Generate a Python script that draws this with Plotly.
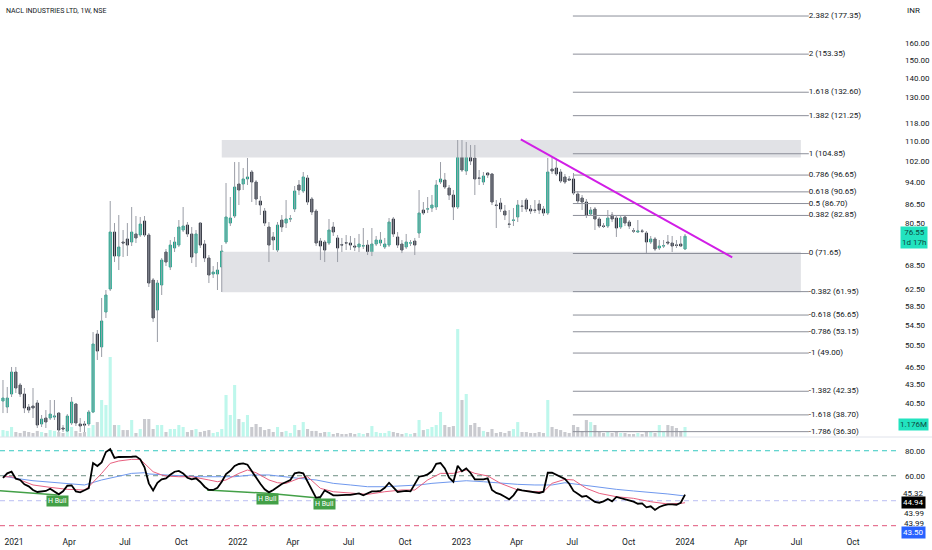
import plotly.graph_objects as go
import pandas as pd

# ---------------- data ----------------
dates = pd.date_range('2020-12-14', periods=160, freq='7D')

opens = [40.80, 39.88, 41.91, 45.58, 43.37, 41.91, 39.88, 40.03, 40.50, 37.38,
         38.24, 38.24, 38.38, 38.97, 36.81, 36.39, 37.52, 40.34, 37.38, 37.38,
         37.38, 39.12, 52.69, 50.15, 57.31, 62.57, 77.77, 70.96, 74.86, 75.73,
         74.86, 77.19, 76.89, 81.10, 76.89, 64.75, 57.75, 63.53, 72.05, 68.04,
         73.17, 74.00, 78.37, 79.87, 77.19, 71.77, 80.48, 74.29, 70.42, 66.25,
         66.25, 68.04, 74.86, 80.48, 82.67, 93.41, 93.41, 95.22, 97.79, 94.12,
         87.54, 84.26, 79.27, 76.31, 72.60, 81.41, 80.48, 81.73, 84.91, 93.05,
         90.94, 95.58, 88.21, 84.26, 75.14, 74.86, 74.57, 79.27, 76.02, 74.10,
         74.65, 74.57, 73.72, 73.45, 73.72, 74.00, 71.50, 74.29, 74.57, 73.45,
         74.00, 81.73, 76.31, 74.29, 73.45, 74.57, 75.14, 77.48, 84.58, 84.91,
         85.23, 85.56, 94.12, 94.84, 92.00, 89.57, 85.56, 105.14, 98.17, 104.74,
         103.16, 95.58, 94.12, 97.42, 97.05, 86.21, 86.87, 84.26, 80.18, 81.30,
         82.36, 85.88, 87.87, 84.91, 84.58, 86.54, 84.91, 83.62, 98.91, 99.29,
         97.79, 95.95, 95.22, 95.22, 89.91, 88.55, 87.20, 83.30, 84.91, 81.73,
         79.57, 79.57, 82.98, 82.04, 79.27, 82.36, 80.79, 78.10, 77.77, 78.07,
         77.48, 74.86, 75.73, 73.17, 73.72, 74.86, 74.57, 74.00, 74.29, 72.89]

highs = [44.21, 43.05, 46.46, 46.46, 43.71, 42.88, 40.34, 42.88, 40.96, 38.68,
         39.42, 40.96, 40.96, 39.12, 37.23, 38.82, 41.43, 40.50, 38.24, 37.81,
         39.42, 53.09, 53.50, 60.46, 62.33, 87.54, 80.48, 82.98, 78.37, 80.48,
         85.56, 82.67, 82.36, 82.67, 77.48, 65.25, 64.75, 70.42, 72.89, 75.43,
         76.31, 81.41, 85.56, 80.79, 79.27, 78.37, 80.79, 75.43, 71.23, 68.30,
         69.35, 74.00, 93.76, 88.89, 101.58, 101.58, 99.29, 103.16, 98.54, 94.84,
         89.23, 85.23, 80.79, 77.77, 80.79, 82.98, 87.87, 82.98, 92.70, 94.84,
         97.79, 96.68, 88.89, 84.91, 76.02, 75.43, 81.73, 80.79, 76.89, 76.02,
         76.89, 76.60, 76.02, 77.19, 78.97, 75.43, 78.97, 76.60, 77.77, 76.02,
         82.04, 82.36, 77.77, 75.43, 77.19, 75.43, 76.02, 91.29, 87.20, 88.89,
         89.57, 94.84, 101.58, 97.42, 93.05, 91.29, 110.49, 110.49, 109.65, 108.40,
         108.40, 98.54, 97.79, 97.79, 97.42, 87.87, 88.55, 86.21, 84.58, 85.23,
         87.87, 87.87, 88.55, 86.21, 87.87, 87.87, 85.88, 103.16, 103.55, 102.36,
         98.91, 97.05, 96.31, 97.42, 90.94, 89.57, 88.21, 85.56, 85.56, 82.36,
         80.48, 84.58, 83.94, 82.98, 82.67, 82.98, 81.41, 78.97, 81.41, 78.67,
         78.07, 76.60, 76.31, 75.43, 75.43, 76.89, 76.60, 75.43, 76.60, 77.19]

lows = [38.97, 38.97, 41.43, 42.07, 41.43, 38.97, 38.97, 38.24, 36.81, 36.95,
        36.81, 37.95, 37.95, 36.25, 36.25, 36.25, 37.23, 37.09, 36.25, 36.25,
        37.09, 38.97, 47.72, 48.27, 56.02, 62.09, 69.35, 67.27, 70.69, 70.96,
        73.72, 74.57, 76.31, 76.31, 63.05, 55.17, 51.11, 61.15, 68.30, 67.27,
        72.05, 73.45, 77.77, 76.31, 69.08, 68.04, 73.17, 69.35, 64.01, 65.25,
        62.33, 61.86, 74.29, 79.57, 82.04, 86.21, 91.29, 93.05, 87.20, 86.21,
        82.98, 79.57, 69.35, 72.60, 72.05, 77.77, 78.97, 80.79, 83.94, 89.57,
        90.25, 86.21, 82.98, 73.72, 69.88, 69.35, 74.00, 76.60, 69.35, 72.05,
        72.60, 72.60, 72.32, 72.05, 72.89, 71.23, 70.96, 73.72, 73.72, 72.89,
        73.45, 76.31, 73.17, 71.77, 72.89, 73.72, 71.23, 76.02, 82.98, 83.62,
        83.94, 84.58, 93.41, 91.64, 87.87, 81.41, 84.91, 97.79, 96.68, 100.43,
        89.57, 93.05, 93.05, 95.58, 86.21, 78.97, 83.94, 81.41, 78.97, 79.57,
        80.79, 83.94, 83.94, 83.30, 83.62, 83.30, 82.67, 82.98, 97.05, 96.31,
        93.76, 93.41, 94.48, 89.57, 86.87, 84.58, 82.04, 82.67, 78.37, 78.97,
        78.97, 78.97, 80.79, 76.31, 78.67, 79.57, 78.67, 77.48, 77.48, 77.48,
        71.77, 74.29, 72.32, 72.60, 73.17, 74.00, 72.05, 73.17, 73.45, 72.60]

closes = [41.27, 41.27, 45.58, 42.88, 41.91, 39.73, 39.42, 39.73, 37.23, 38.09,
          37.66, 38.82, 38.53, 36.53, 36.67, 38.53, 40.65, 37.52, 37.09, 37.23,
          39.12, 50.72, 49.38, 55.38, 61.15, 77.77, 70.96, 73.45, 74.57, 74.00,
          77.77, 76.02, 80.18, 76.89, 64.01, 56.02, 64.01, 69.88, 69.35, 74.00,
          74.86, 79.27, 79.57, 77.19, 70.69, 77.19, 74.00, 70.42, 66.00, 66.76,
          67.27, 72.32, 82.36, 82.04, 92.35, 91.29, 95.22, 95.95, 94.12, 88.21,
          86.21, 80.48, 74.00, 75.43, 79.87, 79.27, 81.73, 81.80, 90.94, 91.29,
          95.95, 87.20, 83.94, 74.57, 73.72, 72.60, 78.37, 77.77, 73.17, 74.00,
          74.57, 74.00, 73.45, 74.29, 73.80, 72.05, 74.29, 75.43, 75.43, 74.29,
          80.79, 77.19, 74.00, 72.60, 74.86, 74.60, 74.00, 83.62, 83.62, 84.95,
          86.21, 93.05, 95.22, 92.35, 89.57, 85.56, 103.95, 98.54, 104.34, 101.97,
          95.22, 95.50, 96.31, 96.68, 87.20, 86.10, 84.91, 82.98, 80.10, 81.41,
          86.21, 85.80, 84.91, 84.26, 84.50, 84.58, 83.62, 97.79, 98.17, 97.05,
          94.48, 94.12, 94.84, 90.25, 87.54, 87.20, 82.98, 84.58, 81.73, 79.57,
          79.50, 82.04, 81.73, 78.97, 82.04, 80.48, 79.57, 78.07, 78.07, 78.00,
          74.86, 75.73, 72.89, 73.72, 73.80, 74.57, 73.72, 73.95, 73.72, 76.55]

volume_m = [0.82, 0.71, 1.18, 0.59, 0.47, 0.71, 0.59, 0.47, 0.71, 0.59,
            0.47, 0.82, 0.71, 0.59, 0.47, 0.94, 1.18, 0.71, 0.47, 0.59,
            1.06, 1.41, 1.76, 4.35, 3.76, 9.41, 1.41, 1.41, 0.82, 0.82,
            2.00, 0.47, 0.94, 2.12, 2.12, 0.94, 1.41, 1.41, 0.59, 0.94,
            0.94, 1.41, 1.18, 0.59, 0.82, 0.94, 0.59, 0.71, 0.82, 0.47,
            0.59, 0.94, 4.94, 2.59, 6.12, 2.12, 1.76, 2.59, 1.18, 1.53,
            1.18, 0.82, 0.94, 0.59, 1.18, 0.59, 0.71, 0.47, 1.41, 0.82,
            1.76, 0.94, 0.71, 0.71, 0.47, 0.59, 0.59, 0.35, 0.47, 0.35,
            0.35, 0.47, 0.35, 0.47, 0.35, 0.47, 1.29, 0.59, 0.47, 0.47,
            0.71, 0.59, 0.47, 0.35, 0.47, 0.35, 0.47, 2.00, 0.82, 0.94,
            1.18, 1.41, 2.94, 1.41, 1.18, 1.29, 12.70, 4.35, 5.06, 1.41,
            1.65, 1.18, 0.71, 0.59, 0.94, 0.47, 0.59, 0.47, 0.71, 0.94,
            1.76, 0.59, 0.59, 0.47, 0.47, 0.59, 0.47, 4.35, 1.18, 0.94,
            0.82, 0.59, 0.47, 1.41, 1.18, 0.71, 2.00, 1.76, 1.41, 0.59,
            0.47, 0.59, 0.47, 0.59, 0.47, 0.47, 0.35, 0.35, 0.47, 0.35,
            0.59, 0.59, 0.47, 1.41, 0.59, 1.41, 1.29, 1.06, 0.71, 1.176]

rsi = [58.2, 61.9, 63.2, 57.6, 56.6, 53.1, 51.5, 48.6, 47.0, 47.5,
       47.8, 49.6, 47.5, 45.1, 47.5, 52.0, 52.3, 47.5, 46.7, 48.3,
       50.0, 70.2, 67.8, 70.7, 79.0, 81.4, 74.2, 75.0, 75.0, 74.7,
       75.2, 75.5, 73.1, 66.7, 53.9, 48.3, 54.4, 57.1, 57.9, 60.8,
       63.2, 63.8, 61.9, 58.4, 57.1, 57.9, 55.0, 51.2, 48.6, 48.6,
       50.4, 55.2, 61.4, 64.0, 67.8, 69.4, 69.9, 68.8, 63.5, 59.0,
       53.6, 49.1, 46.7, 48.6, 51.2, 53.4, 55.0, 56.6, 61.9, 62.7,
       61.9, 55.0, 48.0, 42.2, 43.0, 48.3, 46.4, 44.3, 44.3, 44.6,
       44.6, 44.6, 45.4, 45.9, 44.3, 45.9, 47.5, 47.5, 47.8, 50.4,
       54.4, 50.7, 47.0, 47.5, 47.8, 47.5, 53.9, 59.2, 59.8, 61.1,
       63.5, 69.6, 70.2, 65.9, 58.4, 55.2, 68.0, 63.5, 65.9, 62.2,
       57.1, 57.1, 57.1, 57.9, 48.6, 46.2, 45.1, 43.2, 41.1, 44.3,
       49.1, 48.3, 47.8, 47.5, 47.2, 46.2, 47.2, 62.4, 62.4, 60.8,
       58.7, 57.4, 53.6, 47.8, 45.6, 43.2, 43.8, 41.4, 39.0, 38.4,
       39.5, 41.4, 39.5, 43.0, 42.2, 41.4, 40.0, 39.2, 37.6, 37.9,
       34.7, 35.5, 32.6, 35.0, 36.3, 37.1, 37.1, 36.8, 38.4, 44.94]

rsi_ma_idx = [0, 2, 4, 7, 11, 15, 19, 20, 23, 25, 27, 30, 32, 33, 35, 37, 38, 41, 44, 48,
              50, 52, 55, 57, 59, 62, 64, 66, 69, 71, 74, 77, 81, 85, 89, 93, 96, 99, 102, 105,
              108, 110, 113, 116, 120, 124, 126, 128, 131, 133, 136, 139, 143, 147, 151, 155, 158, 159]
rsi_ma_val = [59.2, 59.2, 56.6, 52.6, 50.7, 49.1, 48.6, 51.2, 61.9, 69.9, 71.8, 73.1, 73.1, 69.9, 63.2, 60.6, 59.8, 59.2, 59.2, 56.6,
              55.2, 56.6, 61.9, 64.6, 62.4, 56.6, 54.4, 53.9, 57.9, 59.2, 49.9, 47.2, 45.9, 45.1, 47.2, 48.6, 48.6, 56.6, 61.9, 61.9,
              64.6, 61.9, 59.8, 53.9, 48.6, 47.2, 47.2, 53.9, 57.1, 56.6, 49.9, 45.9, 43.2, 41.9, 39.2, 37.4, 37.9, 38.4]

rsi_slow_idx = [0, 3, 7, 11, 15, 19, 23, 27, 30, 33, 34, 38, 42, 46, 54, 58, 62, 65, 69, 73,
                77, 81, 85, 89, 93, 97, 100, 104, 108, 112, 116, 120, 124, 128, 131, 135, 139, 143, 147, 151, 155, 159]
rsi_slow_val = [59.8, 57.9, 56.0, 54.7, 53.4, 52.6, 56.6, 59.8, 61.9, 62.4, 61.4, 60.6, 60.0, 59.2, 59.2, 60.6, 60.6, 59.2, 57.9, 56.6,
                53.9, 52.6, 51.2, 51.2, 51.8, 52.6, 53.9, 55.2, 56.0, 55.2, 53.9, 53.1, 52.6, 52.6, 54.4, 52.6, 50.7, 49.1, 47.8, 46.7, 45.4, 43.8]

div1_dates = ['2020-12-09', '2021-03-13']
div1_vals = [48.0, 44.6]
div2_dates = ['2021-11-12', '2022-02-19', '2022-05-17']
div2_vals = [48.6, 45.9, 41.9]
hbull_dates = ['2021-03-13', '2022-02-19', '2022-05-22']
hbull_vals = [39.8, 41.4, 37.4]

fib_ratio = ['2.382', '2', '1.618', '1.382', '1', '0.786', '0.618', '0.5', '0.382', '0',
             '-0.382', '-0.618', '-0.786', '-1', '-1.382', '-1.618', '-1.786']
fib_price = [177.35, 153.35, 132.60, 121.25, 104.85, 96.65, 90.65, 86.70, 82.85, 71.65,
             61.95, 56.65, 53.15, 49.00, 42.35, 38.70, 36.30]
fib_span = ['2023-07-02', '2024-07-21']

zone_span = ['2021-12-06', '2024-07-08']
zone_upper = [103.4, 110.5]
zone_lower = [61.8, 72.1]

trend_dates = ['2023-04-08', '2024-03-18']
trend_vals = [110.8, 70.6]

price_ticks = [160, 150, 140, 130, 118, 110, 102, 94, 86.5, 80.5, 68.5, 62.5, 58.5, 54.5, 50.5, 46.5, 43.5, 40.5]
x_tick_dates = ['2021-01-01', '2021-04-01', '2021-07-01', '2021-10-01', '2022-01-01', '2022-04-01',
                '2022-07-01', '2022-10-01', '2023-01-01', '2023-04-01', '2023-07-01', '2023-10-01',
                '2024-01-01', '2024-04-01', '2024-07-01', '2024-10-01']
x_tick_text = ['2021', 'Apr', 'Jul', 'Oct', '2022', 'Apr', 'Jul', 'Oct', '2023', 'Apr', 'Jul', 'Oct',
               '2024', 'Apr', 'Jul', 'Oct']

# ---------------- figure ----------------
FONT = 'Roboto'
TXT = '#131722'
UP_FILL, UP_LINE = '#2bdcb8', '#1a9f86'
DN_FILL, DN_LINE = '#3a3d47', '#2a2e39'

fig = go.Figure()

# volume (base axis y, hidden)
vol_colors = ['rgba(40,228,192,0.30)' if c >= o else 'rgba(120,123,134,0.40)' for o, c in zip(opens, closes)]
fig.add_trace(go.Bar(x=dates, y=volume_m, marker=dict(color=vol_colors, line=dict(width=0)),
                     width=7 * 24 * 3600 * 1000 * 0.72, xaxis='x', yaxis='y', hoverinfo='skip'))

# zones (price axis y3)
for lo, hi in [zone_upper, zone_lower]:
    fig.add_trace(go.Scatter(x=[zone_span[0], zone_span[1], zone_span[1], zone_span[0], zone_span[0]],
                             y=[lo, lo, hi, hi, lo], fill='toself', fillcolor='#e1e2e6',
                             line=dict(width=0), mode='lines', xaxis='x', yaxis='y3', hoverinfo='skip'))

# fib lines
fx, fy = [], []
for p in fib_price:
    fx += [fib_span[0], fib_span[1], None]
    fy += [p, p, None]
fig.add_trace(go.Scatter(x=fx, y=fy, mode='lines', line=dict(color='#8c8f99', width=1),
                         xaxis='x', yaxis='y3', hoverinfo='skip'))
fig.add_trace(go.Scatter(x=[fib_span[1]] * len(fib_price), y=fib_price, mode='text',
                         text=[f'{r} ({p:.2f})' for r, p in zip(fib_ratio, fib_price)],
                         textposition='middle right', textfont=dict(size=8, color=TXT, family=FONT),
                         xaxis='x', yaxis='y3', hoverinfo='skip', cliponaxis=False))

# wicks
wx, wy = [], []
for d, h, l in zip(dates, highs, lows):
    wx += [d, d, None]
    wy += [h, l, None]
fig.add_trace(go.Scatter(x=wx, y=wy, mode='lines', line=dict(color='#9a9da6', width=1),
                         xaxis='x', yaxis='y3', hoverinfo='skip'))

# candle bodies
body_hi = [max(o, c) for o, c in zip(opens, closes)]
body_lo = [min(o, c) for o, c in zip(opens, closes)]
fig.add_trace(go.Candlestick(x=dates, open=opens, high=body_hi, low=body_lo, close=closes,
                             increasing=dict(fillcolor=UP_FILL, line=dict(color=UP_LINE, width=1)),
                             decreasing=dict(fillcolor=DN_FILL, line=dict(color=DN_LINE, width=1)),
                             whiskerwidth=0, xaxis='x', yaxis='y3', hoverinfo='skip'))

# trend line
fig.add_trace(go.Scatter(x=trend_dates, y=trend_vals, mode='lines',
                         line=dict(color='#d11ee6', width=2), xaxis='x', yaxis='y3', hoverinfo='skip'))

# RSI pane
fig.add_trace(go.Scatter(x=[dates[i] for i in rsi_slow_idx], y=rsi_slow_val, mode='lines',
                         line=dict(color='#6f98ee', width=1), xaxis='x2', yaxis='y2', hoverinfo='skip'))
fig.add_trace(go.Scatter(x=[dates[i] for i in rsi_ma_idx], y=rsi_ma_val, mode='lines',
                         line=dict(color='#e8607f', width=1), xaxis='x2', yaxis='y2', hoverinfo='skip'))
fig.add_trace(go.Scatter(x=div1_dates, y=div1_vals, mode='lines', line=dict(color='#43a047', width=1.5),
                         xaxis='x2', yaxis='y2', hoverinfo='skip'))
fig.add_trace(go.Scatter(x=div2_dates, y=div2_vals, mode='lines', line=dict(color='#43a047', width=1.5),
                         xaxis='x2', yaxis='y2', hoverinfo='skip'))
fig.add_trace(go.Scatter(x=dates, y=rsi, mode='lines', line=dict(color='#000000', width=1.8),
                         xaxis='x2', yaxis='y2', hoverinfo='skip'))

W, H = 932, 550
PLOT_R = 897
price_dom = [113 / H, 1]
rsi_dom = [15 / H, 113 / H]
xrange = ['2020-12-09 03:36', '2024-12-11 21:36']

shapes = []
for lvl, col in [(80, '#35c9c0'), (60, '#6e8f83'), (40, '#b9bdf2'), (20, '#e0567a')]:
    shapes.append(dict(type='line', xref='x2 domain', x0=0, x1=1, yref='y2', y0=lvl, y1=lvl,
                       line=dict(color=col, width=1, dash='5px,4px'), layer='below'))
shapes.append(dict(type='line', xref='paper', x0=0, x1=W / PLOT_R, yref='paper', y0=price_dom[0],
                   y1=price_dom[0], line=dict(color='#e0e3eb', width=1)))


def px_x(p):
    return p / PLOT_R


def px_y(p):
    return 1 - p / H


LX = px_x(914)
annotations = [
    dict(text='NACL INDUSTRIES LTD, 1W, NSE', xref='paper', yref='paper', x=px_x(4), y=px_y(11),
         xanchor='left', yanchor='middle', showarrow=False, font=dict(size=7, color=TXT, family=FONT)),
    dict(text='INR', xref='paper', yref='paper', x=LX, y=px_y(10), xanchor='center', yanchor='middle',
         showarrow=False, font=dict(size=8, color=TXT, family=FONT)),
    dict(text='76.55<br>1d 17h', xref='paper', yref='paper', x=LX, y=px_y(237), xanchor='center',
         yanchor='middle', showarrow=False, bgcolor='#22e3bf', borderpad=1,
         font=dict(size=8, color='#0d4a40', family=FONT)),
    dict(text='1.176M', xref='paper', yref='paper', x=LX, y=px_y(424), xanchor='center', yanchor='middle',
         showarrow=False, bgcolor='#22e3bf', borderpad=1, font=dict(size=8, color='#0d4a40', family=FONT)),
    dict(text='45.32', xref='paper', yref='paper', x=LX, y=px_y(493), xanchor='center', yanchor='middle',
         showarrow=False, font=dict(size=8, color=TXT, family=FONT)),
    dict(text='44.94', xref='paper', yref='paper', x=LX, y=px_y(502), xanchor='center', yanchor='middle',
         showarrow=False, bgcolor='#000000', borderpad=1, font=dict(size=8, color='#ffffff', family=FONT)),
    dict(text='43.99', xref='paper', yref='paper', x=LX, y=px_y(513), xanchor='center', yanchor='middle',
         showarrow=False, font=dict(size=8, color=TXT, family=FONT)),
    dict(text='43.99', xref='paper', yref='paper', x=LX, y=px_y(523), xanchor='center', yanchor='middle',
         showarrow=False, font=dict(size=8, color=TXT, family=FONT)),
    dict(text='43.50', xref='paper', yref='paper', x=LX, y=px_y(532), xanchor='center', yanchor='middle',
         showarrow=False, bgcolor='#2962ff', borderpad=1, font=dict(size=8, color='#ffffff', family=FONT)),
]
for d, v in zip(hbull_dates, hbull_vals):
    annotations.append(dict(text='H Bull', xref='x2', yref='y2', x=d, y=v, showarrow=False,
                            bgcolor='#43a047', borderpad=1, font=dict(size=7, color='#ffffff', family=FONT)))

fig.update_layout(
    width=W, height=H, margin=dict(l=0, r=W - PLOT_R, t=0, b=0, autoexpand=False),
    paper_bgcolor='#ffffff', plot_bgcolor='#ffffff', showlegend=False,
    font=dict(family=FONT, size=8, color=TXT),
    xaxis=dict(domain=[0, 1], anchor='y', range=xrange, showticklabels=False, showgrid=False,
               zeroline=False, rangeslider=dict(visible=False), type='date', automargin=False),
    xaxis2=dict(domain=[0, 1], anchor='y2', range=xrange, matches='x', showgrid=False, zeroline=False,
                tickvals=x_tick_dates, ticktext=x_tick_text, ticks='', tickfont=dict(size=8.5, color=TXT),
                type='date', automargin=False),
    yaxis=dict(domain=price_dom, anchor='x', range=[0, 51.4], visible=False, fixedrange=True,
               automargin=False),
    yaxis3=dict(overlaying='y', anchor='x', side='right', type='log', range=[1.55104, 2.27540],
                tickvals=price_ticks, ticktext=[f'{t:.2f}' for t in price_ticks], showgrid=False,
                zeroline=False, ticks='', ticklabelstandoff=7, tickfont=dict(size=8, color=TXT),
                automargin=False),
    yaxis2=dict(domain=rsi_dom, anchor='x2', side='right', range=[12.56, 91.0], tickvals=[80, 60],
                ticktext=['80.00', '60.00'], showgrid=False, zeroline=False, ticks='',
                ticklabelstandoff=7, tickfont=dict(size=8, color=TXT), automargin=False),
    shapes=shapes, annotations=annotations,
)

fig.write_html('out.html', config={'displayModeBar': False},
               post_script="document.body.style.margin='0';")
